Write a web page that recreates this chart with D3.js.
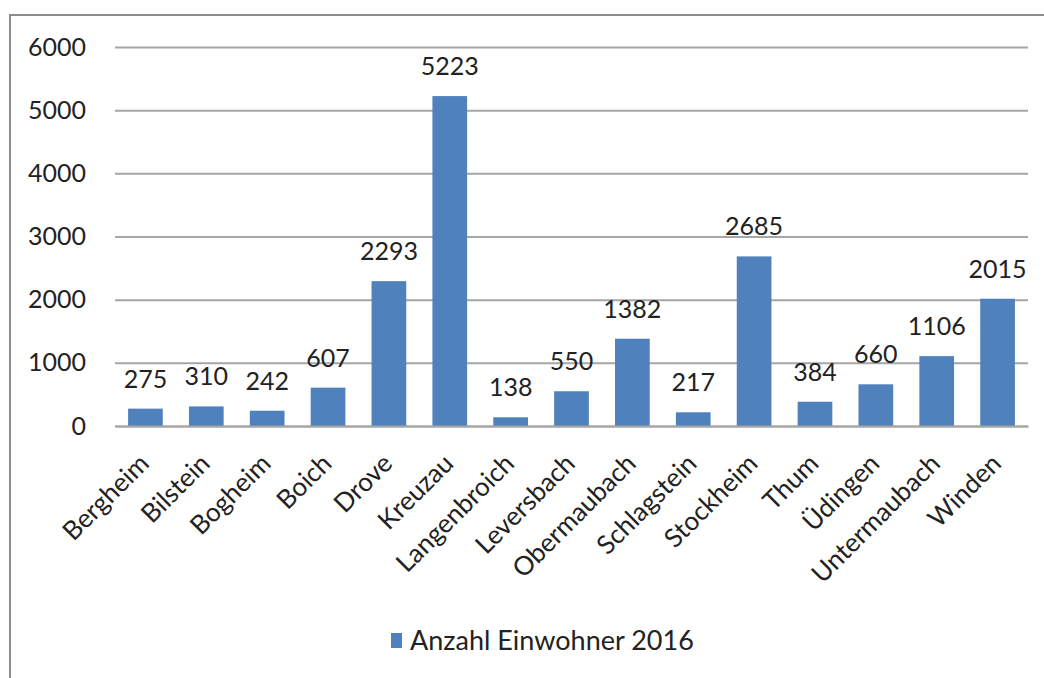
<!DOCTYPE html>
<html>
<head>
<meta charset="utf-8">
<script src="https://cdn.jsdelivr.net/npm/d3@7"></script>
<style>
  body { margin: 0; background: #fff; }
  text { font-family: Lato, "Open Sans", sans-serif; fill: #222; }
</style>
</head>
<body>
<svg id="chart" width="1044" height="678"></svg>
<script>
// Chart data.
var places = ["Bergheim", "Bilstein", "Bogheim", "Boich", "Drove", "Kreuzau", "Langenbroich",
  "Leversbach", "Obermaubach", "Schlagstein", "Stockheim", "Thum", "Üdingen", "Untermaubach", "Winden"];
var inhabitants = [275, 310, 242, 607, 2293, 5223, 138, 550, 1382, 217, 2685, 384, 660, 1106, 2015];
var yTicks = [0, 1000, 2000, 3000, 4000, 5000, 6000];
var seriesName = "Anzahl Einwohner 2016";

var svg = d3.select("#chart");
var plot = {left: 115, right: 1028, top: 47, bottom: 426};
var barColor = "#4f81bd";

// outer frame of the chart area
svg.append("rect")
  .attr("x", 10).attr("y", 15)
  .attr("width", 1060).attr("height", 700)
  .attr("fill", "none").attr("stroke", "#8c8c8c").attr("stroke-width", 2);

var x = d3.scaleBand().domain(places).range([plot.left, plot.right]).paddingInner(0.43).paddingOuter(0.215);
var y = d3.scaleLinear().domain([0, 6000]).range([plot.bottom, plot.top]);

// gridlines + y labels
var yAxis = svg.append("g")
  .attr("transform", "translate(" + plot.left + ",0)")
  .call(d3.axisLeft(y).tickValues(yTicks).tickFormat(d3.format("d"))
    .tickSize(-(plot.right - plot.left)).tickPadding(29));
yAxis.select(".domain").remove();
yAxis.selectAll(".tick line").attr("stroke", "#a6a6a6").attr("stroke-width", 2);
yAxis.selectAll(".tick text").style("font-size", "25px").attr("fill", "#222");

// bars
svg.append("g").selectAll("rect")
  .data(inhabitants)
  .join("rect")
  .attr("x", function(d, i){ return x(places[i]); })
  .attr("y", function(d){ return y(d); })
  .attr("width", x.bandwidth())
  .attr("height", function(d){ return y(0) - y(d); })
  .attr("fill", barColor);

// value labels
svg.append("g").selectAll("text")
  .data(inhabitants)
  .join("text")
  .attr("x", function(d, i){ return x(places[i]) + x.bandwidth() / 2; })
  .attr("y", function(d){ return y(d) - 21; })
  .attr("text-anchor", "middle")
  .style("font-size", "25px")
  .text(function(d){ return d; });

// x axis line + rotated category labels
var xAxis = svg.append("g")
  .attr("transform", "translate(0," + plot.bottom + ")")
  .call(d3.axisBottom(x).tickSize(0));
xAxis.select(".domain").attr("stroke", "#a6a6a6").attr("stroke-width", 2);
xAxis.selectAll(".tick text")
  .style("font-size", "26px")
  .attr("fill", "#222")
  .attr("text-anchor", "end")
  .attr("dy", 0)
  .attr("transform", "translate(3,37) rotate(-45)");

// legend
var legend = svg.append("g").attr("transform", "translate(391,633)");
legend.append("rect").attr("width", 11).attr("height", 15).attr("fill", barColor);
legend.append("text").attr("x", 19).attr("y", 17).style("font-size", "27px").text(seriesName);
</script>
</body>
</html>
